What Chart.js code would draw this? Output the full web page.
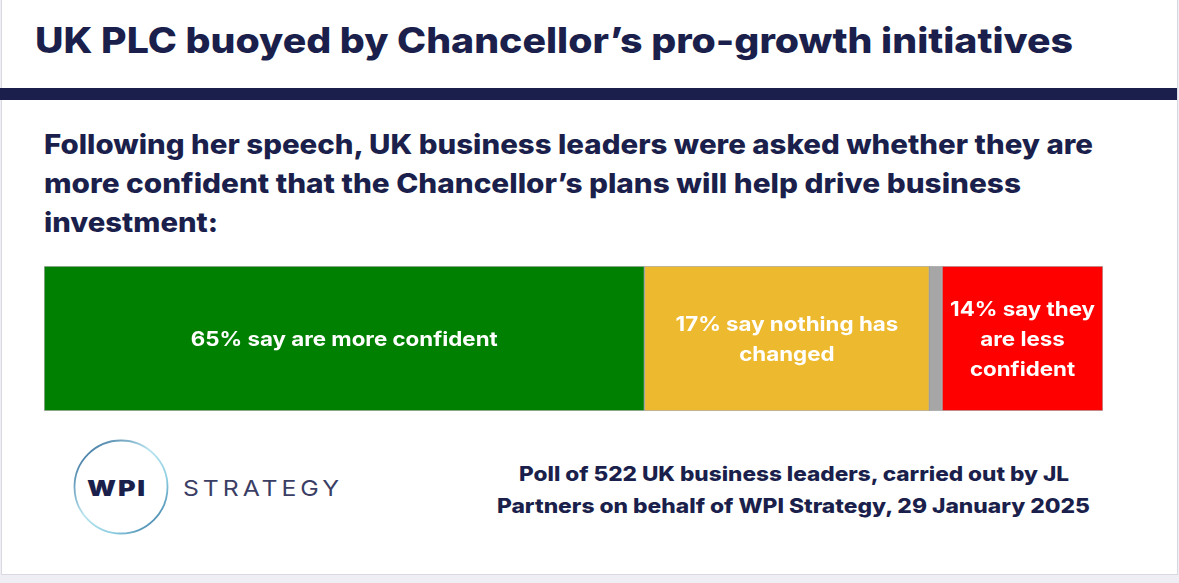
<!DOCTYPE html>
<html>
<head>
<meta charset="utf-8">
<script src="https://cdn.jsdelivr.net/npm/chart.js@4/dist/chart.umd.min.js"></script>
<style>
    html, body { margin: 0; padding: 0; }
    body { width: 1179px; height: 583px; overflow: hidden; background: #eeeef4; position: relative; font-family: Inter, "Open Sans", sans-serif; }
    .card { position: absolute; left: 1px; top: -2px; width: 1175px; height: 575px; background: #fff; border: 1px solid #d9d9e2; }
    .rule { position: absolute; left: 0; top: 88px; width: 1177px; height: 12px; background: #1b1f4b; }
    .txt { position: absolute; white-space: nowrap; color: #1b1f4b; line-height: 1; transform-origin: 0 0; }
    .title { font-size: 35px; font-weight: 800; }
    .sub { font-size: 27px; font-weight: 800; }
    .note { font-size: 20px; font-weight: 800; }
    .wpi { font-size: 22px; font-weight: 900; letter-spacing: 1.5px; }
    .strat { font-size: 22px; font-weight: 400; color: #3b3e64; letter-spacing: 3.5px; }
    #bar-wrap { position: absolute; left: 44px; top: 266px; width: 1059px; height: 145px; }
    #logo { position: absolute; left: 70px; top: 437px; }
</style>
</head>
<body>
<div class="card"></div>
<div class="rule"></div>

<div class="txt title" data-x="35" data-y="53" data-w="1038">UK PLC buoyed by Chancellor’s pro-growth initiatives</div>
<div class="txt sub" data-x="44" data-y="154" data-w="1049">Following her speech, UK business leaders were asked whether they are</div>
<div class="txt sub" data-x="44" data-y="193" data-w="977">more confident that the Chancellor’s plans will help drive business</div>
<div class="txt sub" data-x="44" data-y="232" data-w="174">investment:</div>

<div id="bar-wrap"><canvas id="chart" width="1059" height="145"></canvas></div>

<svg id="logo" width="102" height="102" viewBox="0 0 102 102">
    <defs>
        <linearGradient id="ring" x1="0" y1="0" x2="1" y2="1">
            <stop offset="0" stop-color="#1f5a8c"/>
            <stop offset="0.45" stop-color="#b9e4ef"/>
            <stop offset="0.7" stop-color="#8fcfe2"/>
            <stop offset="1" stop-color="#1f5f90"/>
        </linearGradient>
    </defs>
    <circle cx="51" cy="50" r="46.5" fill="none" stroke="url(#ring)" stroke-width="1.8"/>
</svg>
<div class="txt wpi" data-x="87" data-y="496" data-w="60">WPI</div>
<div class="txt strat" data-x="183" data-y="496" data-w="160">STRATEGY</div>

<div class="txt note" data-x="519" data-y="481" data-w="550">Poll of 522 UK business leaders, carried out by JL</div>
<div class="txt note" data-x="497" data-y="513" data-w="593">Partners on behalf of WPI Strategy, 29 January 2025</div>

<script>
(function () {
    "use strict";

    // one stacked bar; values are the segment widths as drawn (% of bar length)
    const categories = ["UK business leaders"];
    const segments = ["More confident", "Nothing has changed", "Don't know", "Less confident"];
    const shares = [56.7, 26.9, 1.2, 15.2];
    const colors = ["#008000", "#edb92e", "#a6a6a6", "#ff0000"];
    const barLabels = [
        ["65% say are more confident"],
        ["17% say nothing has", "changed"],
        [],
        ["14% say they", "are less", "confident"],
    ];

    // put each text block on its baseline and stretch it to the measured width
    function place(el) {
        const mark = document.createElement("span");
        mark.style.cssText = "display:inline-block;width:0;height:0;vertical-align:baseline";
        el.appendChild(mark);
        const w = Number(el.dataset.w);
        const cur = el.getBoundingClientRect().width;
        if (w) el.style.transform = `scaleX(${(w / cur).toFixed(4)})`;
        el.style.left = el.dataset.x + "px";
        el.style.top = (Number(el.dataset.y) - mark.offsetTop) + "px";
    }

    const segLabels = {
        id: "segLabels",
        afterDatasetsDraw(chart) {
            const ctx = chart.ctx;
            ctx.save();
            ctx.fillStyle = "#ffffff";
            ctx.font = "700 20px Inter, 'Open Sans', sans-serif";
            ctx.textAlign = "center";
            ctx.textBaseline = "middle";
            // first label spans 307px in the picture
            const sx = 307 / ctx.measureText(barLabels[0][0]).width;
            const lh = 30;
            chart.data.datasets.forEach((ds, i) => {
                const bar = chart.getDatasetMeta(i).data[0];
                const lines = barLabels[i];
                if (!bar || !lines.length) return;
                const cx = (bar.x + bar.base) / 2;
                const y0 = bar.y + 1 - (lines.length - 1) * lh / 2;
                lines.forEach((t, k) => {
                    ctx.save();
                    ctx.translate(cx, y0 + k * lh);
                    ctx.scale(sx, 1);
                    ctx.fillText(t, 0, 0);
                    ctx.restore();
                });
            });
            ctx.restore();
        },
    };

    function draw() {
        document.querySelectorAll(".txt").forEach(place);
        new Chart(document.getElementById("chart"), {
            type: "bar",
            data: {
                labels: categories,
                datasets: segments.map((s, i) => ({
                    label: s,
                    data: [shares[i]],
                    backgroundColor: colors[i],
                    borderColor: "rgba(40,40,40,0.35)",
                    borderWidth: 1,
                    borderSkipped: false,
                    barPercentage: 1,
                    categoryPercentage: 1,
                })),
            },
            options: {
                indexAxis: "y",
                responsive: false,
                animation: false,
                layout: { padding: 0 },
                plugins: { legend: { display: false }, tooltip: { enabled: false } },
                scales: {
                    x: { stacked: true, min: 0, max: 100, display: false },
                    y: { stacked: true, display: false },
                },
            },
            plugins: [segLabels],
        });
    }

    if (document.fonts && document.fonts.ready) document.fonts.ready.then(draw);
    else draw();
})();
</script>
</body>
</html>
